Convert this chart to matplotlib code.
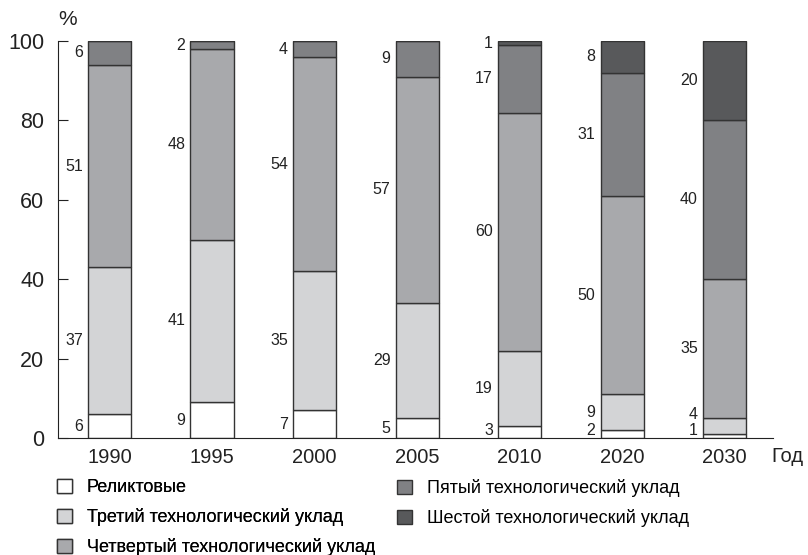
import matplotlib.pyplot as plt
import numpy as np

plt.rcParams["font.family"] = ["Liberation Sans", "DejaVu Sans"]

years = ["1990", "1995", "2000", "2005", "2010", "2020", "2030"]
relict = [6, 9, 7, 5, 3, 2, 1]
third = [37, 41, 35, 29, 19, 9, 4]
fourth = [51, 48, 54, 57, 60, 50, 35]
fifth = [6, 2, 4, 9, 17, 31, 40]
sixth = [0, 0, 0, 0, 1, 8, 20]

series_names = [
    "Реликтовые",
    "Третий технологический уклад",
    "Четвертый технологический уклад",
    "Пятый технологический уклад",
    "Шестой технологический уклад",
]
colors = ["#ffffff", "#d3d4d6", "#a8a9ac", "#808184", "#58595b"]
text_color = "#222222"

fig = plt.figure(figsize=(8.08, 5.55), dpi=100)
ax = fig.add_axes([0.0718, 0.2108, 0.885, 0.7152])

x = np.arange(len(years))
width = 0.42
bottom = np.zeros(len(years))
last_label = np.full(len(years), -10.0)
all_series = [relict, third, fourth, fifth, sixth]
for name, vals, col in zip(series_names, all_series, colors):
    vals = np.array(vals, dtype=float)
    ax.bar(x, vals, width, bottom=bottom, color=col, edgecolor="#333333",
           linewidth=1.0, label=name)
    for i, (xi, v, b) in enumerate(zip(x, vals, bottom)):
        if v <= 0:
            continue
        y = max(b + v / 2, 2.0, last_label[i] + 4.0)  # раздвигаем мелкие подписи
        last_label[i] = y
        ax.text(xi - width / 2 - 0.05, y, f"{int(v)}", ha="right",
                va="center", fontsize=11.5, color=text_color)
    bottom += vals

ax.set_xlim(-0.502, 6.473)
ax.set_ylim(0, 100)
ax.set_yticks([0, 20, 40, 60, 80, 100])
ax.tick_params(axis="y", direction="in", length=7, labelsize=15.5, pad=10,
               colors=text_color)
ax.set_xticks(x)
ax.set_xticklabels(years, fontsize=14.5, color=text_color)
ax.tick_params(axis="x", length=0, pad=7)
for side in ["top", "right"]:
    ax.spines[side].set_visible(False)
ax.spines["left"].set_color(text_color)
ax.spines["bottom"].set_color(text_color)

fig.text(0.083, 0.964, "%", fontsize=15, ha="center", va="center", color=text_color)
fig.text(0.955, 0.177, "Год", fontsize=14.5, ha="left", va="center", color=text_color)

handles, labels = ax.get_legend_handles_labels()
legend_kw = dict(loc="upper left", frameon=False,
                 prop={"size": 13},
                 handlelength=0.83, handleheight=0.83, handletextpad=0.83,
                 labelspacing=0.66, borderaxespad=0, borderpad=0.4)
leg1 = fig.legend(handles[:3], labels[:3], bbox_to_anchor=(0.0615, 0.150), **legend_kw)
fig.legend(handles[3:], labels[3:], bbox_to_anchor=(0.483, 0.150), **legend_kw)
fig.add_artist(leg1)

fig.savefig("out.png", dpi=100)
